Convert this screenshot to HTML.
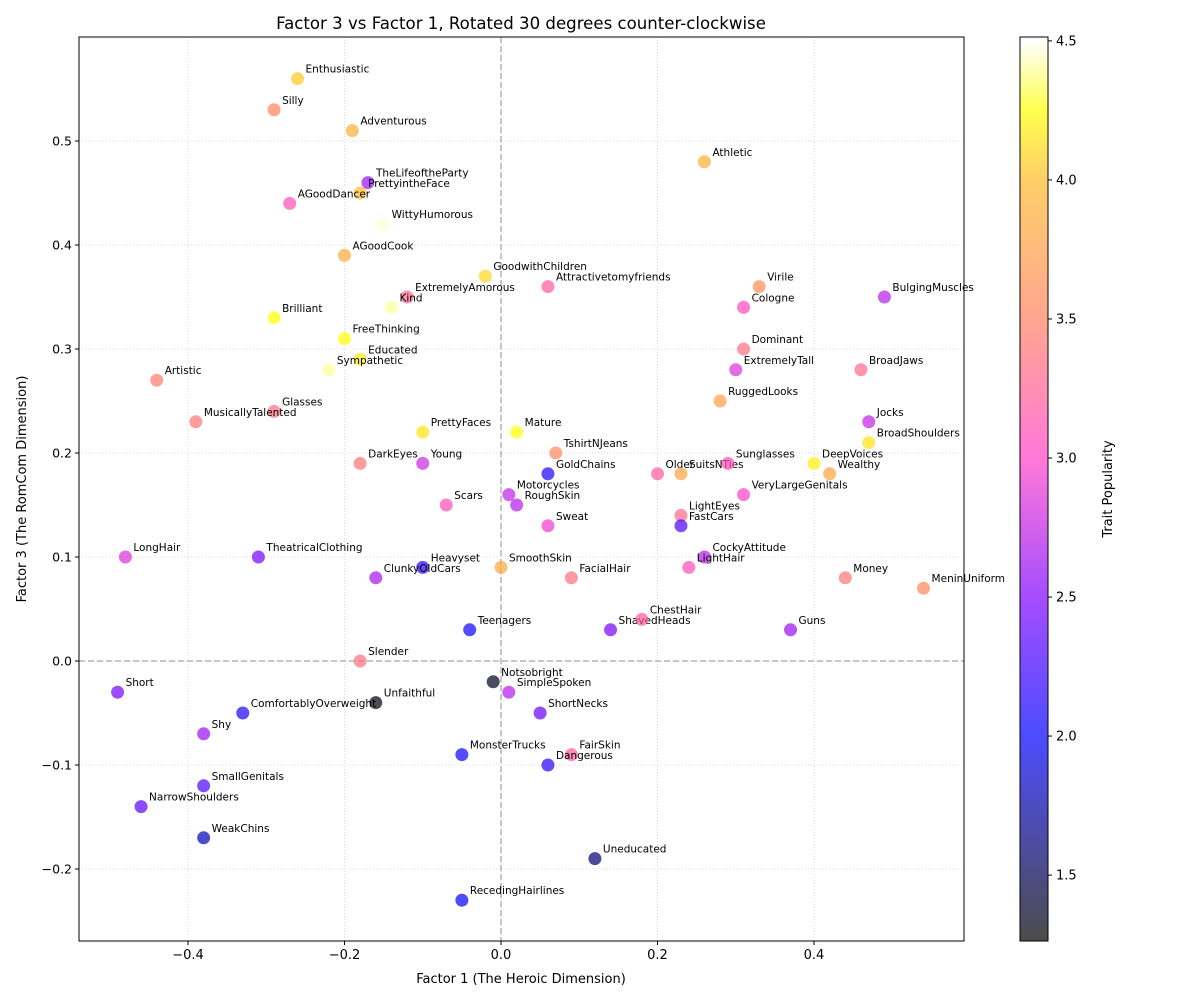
<!DOCTYPE html>
<html><head><meta charset="utf-8"><style>
body{margin:0;background:#fff;}
svg{display:block;font-family:"DejaVu Sans","Liberation Sans",sans-serif;}
</style></head><body>
<svg id="chart" width="1200" height="1000">
<defs>
<linearGradient id="cbg" x1="0" y1="1" x2="0" y2="0">
</linearGradient>
</defs>
</svg>
<script>
const names=["Enthusiastic","Silly","Adventurous","Athletic","TheLifeoftheParty","PrettyintheFace","AGoodDancer","WittyHumorous","AGoodCook","GoodwithChildren","Attractivetomyfriends","Virile","BulgingMuscles","ExtremelyAmorous","Kind","Cologne","Brilliant","FreeThinking","Dominant","Educated","Sympathetic","ExtremelyTall","BroadJaws","Artistic","RuggedLooks","Glasses","MusicallyTalented","Jocks","PrettyFaces","Mature","BroadShoulders","TshirtNJeans","DarkEyes","Young","GoldChains","Older","SuitsNTies","Sunglasses","DeepVoices","Wealthy","Motorcycles","RoughSkin","Scars","VeryLargeGenitals","LightEyes","FastCars","Sweat","LongHair","TheatricalClothing","CockyAttitude","Heavyset","ClunkyOldCars","SmoothSkin","FacialHair","LightHair","Money","MeninUniform","Teenagers","ShavedHeads","ChestHair","Guns","Slender","Notsobright","Short","SimpleSpoken","Unfaithful","ComfortablyOverweight","ShortNecks","Shy","MonsterTrucks","FairSkin","Dangerous","SmallGenitals","NarrowShoulders","WeakChins","Uneducated","RecedingHairlines"];
const factor1=[-0.26,-0.29,-0.19,0.26,-0.17,-0.18,-0.27,-0.15,-0.20,-0.02,0.06,0.33,0.49,-0.12,-0.14,0.31,-0.29,-0.20,0.31,-0.18,-0.22,0.30,0.46,-0.44,0.28,-0.29,-0.39,0.47,-0.10,0.02,0.47,0.07,-0.18,-0.10,0.06,0.20,0.23,0.29,0.40,0.42,0.01,0.02,-0.07,0.31,0.23,0.23,0.06,-0.48,-0.31,0.26,-0.10,-0.16,0.00,0.09,0.24,0.44,0.54,-0.04,0.14,0.18,0.37,-0.18,-0.01,-0.49,0.01,-0.16,-0.33,0.05,-0.38,-0.05,0.09,0.06,-0.38,-0.46,-0.38,0.12,-0.05];
const factor3=[0.56,0.53,0.51,0.48,0.46,0.45,0.44,0.42,0.39,0.37,0.36,0.36,0.35,0.35,0.34,0.34,0.33,0.31,0.30,0.29,0.28,0.28,0.28,0.27,0.25,0.24,0.23,0.23,0.22,0.22,0.21,0.20,0.19,0.19,0.18,0.18,0.18,0.19,0.19,0.18,0.16,0.15,0.15,0.16,0.14,0.13,0.13,0.10,0.10,0.10,0.09,0.08,0.09,0.08,0.09,0.08,0.07,0.03,0.03,0.04,0.03,0.00,-0.02,-0.03,-0.03,-0.04,-0.05,-0.05,-0.07,-0.09,-0.09,-0.10,-0.12,-0.14,-0.17,-0.19,-0.23];
const popularity=[4.05,3.5,3.9,3.9,2.6,4.0,3.1,4.45,3.85,4.1,3.2,3.6,2.7,3.3,4.4,3.05,4.25,4.25,3.35,4.2,4.4,2.85,3.3,3.45,3.75,3.35,3.4,2.75,4.15,4.25,4.15,3.55,3.4,2.8,2.1,3.2,3.8,3.1,4.2,3.8,2.75,2.7,3.1,3.0,3.3,2.3,2.95,2.85,2.45,2.7,2.15,2.65,3.85,3.35,3.1,3.4,3.55,2.05,2.45,3.2,2.6,3.35,1.35,2.45,2.7,1.3,2.1,2.4,2.6,2.05,3.2,2.15,2.3,2.35,1.8,1.6,2.0];
const xTicks=[-0.4,-0.2,0.0,0.2,0.4];
const yTicks=[-0.2,-0.1,0.0,0.1,0.2,0.3,0.4,0.5];
const cTicks=[1.5,2.0,2.5,3.0,3.5,4.0,4.5];

const NS="http://www.w3.org/2000/svg";
const svg=document.getElementById('chart');
const L=79,R=964,T=37,B=941;
const xs=v=>501+v*782.5;
const ys=v=>661-v*1040;
const cMin=1.263,cMax=4.514;
const cs=v=>941-(v-cMin)/(cMax-cMin)*904;
const stops=[[1.263,[0,0,0]],[2.0,[0,0,255]],[2.5,[128,0,255]],[3.0,[255,64,200]],[3.5,[255,128,96]],[4.0,[255,185,40]],[4.25,[255,255,0]],[4.5,[255,255,255]],[4.514,[255,255,255]]];
function color(v){
  for(let i=0;i<stops.length-1;i++){
    const a=stops[i],b=stops[i+1];
    if(v<=b[0]){const t=Math.max(0,(v-a[0])/(b[0]-a[0]));
      return 'rgb('+a[1].map((c,k)=>Math.round(c+(b[1][k]-c)*t)).join(',')+')';}
  }
  return 'rgb(255,255,255)';
}
function el(tag,attrs,parent){const e=document.createElementNS(NS,tag);for(const k in attrs)e.setAttribute(k,attrs[k]);(parent||svg).appendChild(e);return e;}

const g=document.getElementById('cbg');
stops.forEach(s=>{el('stop',{offset:((s[0]-cMin)/(cMax-cMin)),'stop-color':color(s[0])},g);});

xTicks.forEach(t=>{const l=el('line',{x1:xs(t),x2:xs(t),y1:T,y2:B,stroke:'#d0d0d0','stroke-width':0.8,'stroke-dasharray':'1,2'});

});
yTicks.forEach(t=>{const l=el('line',{x1:L,x2:R,y1:ys(t),y2:ys(t),stroke:'#d0d0d0','stroke-width':0.8,'stroke-dasharray':'1,2'});

});
let z=el('line',{x1:xs(0),x2:xs(0),y1:T,y2:B,stroke:'#999','stroke-width':1.5,'stroke-dasharray':'6,3','opacity':0.7});


z=el('line',{x1:L,x2:R,y1:ys(0),y2:ys(0),stroke:'#999','stroke-width':1.5,'stroke-dasharray':'6,3','opacity':0.7});



names.forEach((n,i)=>{
  const c=el('circle',{cx:xs(factor1[i]),cy:ys(factor3[i]),r:6.5,fill:color(popularity[i]),'fill-opacity':0.7});
  
  
  const t=el('text',{x:xs(factor1[i])+8,y:ys(factor3[i])-6,'font-size':10.5,fill:'#000'});
  t.textContent=n;
  
  
});

let f=el('rect',{x:L,y:T,width:R-L,height:B-T,fill:'none',stroke:'#000','stroke-width':1});



xTicks.forEach(t=>{
  el('line',{x1:xs(t),x2:xs(t),y1:B,y2:B+4,stroke:'#000'});
  const tx=el('text',{x:xs(t),y:B+18,'font-size':13,'text-anchor':'middle'});
  tx.textContent=(t<0?'\u2212':'')+Math.abs(t).toFixed(1);
  
  
});
yTicks.forEach(t=>{
  el('line',{x1:L-4,x2:L,y1:ys(t),y2:ys(t),stroke:'#000'});
  const tx=el('text',{x:L-7,y:ys(t)+4.5,'font-size':12.5,'text-anchor':'end'});
  tx.textContent=(t<0?'\u2212':'')+Math.abs(t).toFixed(1);
  
  
});

let cb=el('rect',{x:1020,y:37,width:28,height:904,fill:'url(#cbg)','fill-opacity':0.7,stroke:'#000','stroke-width':1});


cTicks.forEach(t=>{
  el('line',{x1:1048,x2:1052,y1:cs(t),y2:cs(t),stroke:'#000'});
  const tx=el('text',{x:1056,y:cs(t)+4.5,'font-size':13});
  tx.textContent=t.toFixed(1);
  
  
});
</script>
<script>
(function(){
const NS="http://www.w3.org/2000/svg",svg=document.getElementById('chart');
function tx(x,y,s,txt,name,extra){const e=document.createElementNS(NS,'text');e.setAttribute('x',x);e.setAttribute('y',y);e.setAttribute('font-size',s);e.setAttribute('text-anchor','middle');if(extra)e.setAttribute('transform',extra);e.textContent=txt;


svg.appendChild(e);}
tx(521,29,16.6,'Factor 3 vs Factor 1, Rotated 30 degrees counter-clockwise','chart-title');
tx(521,983,13,'Factor 1 (The Heroic Dimension)','x-axis-title');
tx(26,489,13,'Factor 3 (The RomCom Dimension)','y-axis-title','rotate(-90 26 489)');
tx(1112,489,13,'Trait Popularity','colorbar-title','rotate(-90 1112 489)');
})();
</script>
</body></html>
